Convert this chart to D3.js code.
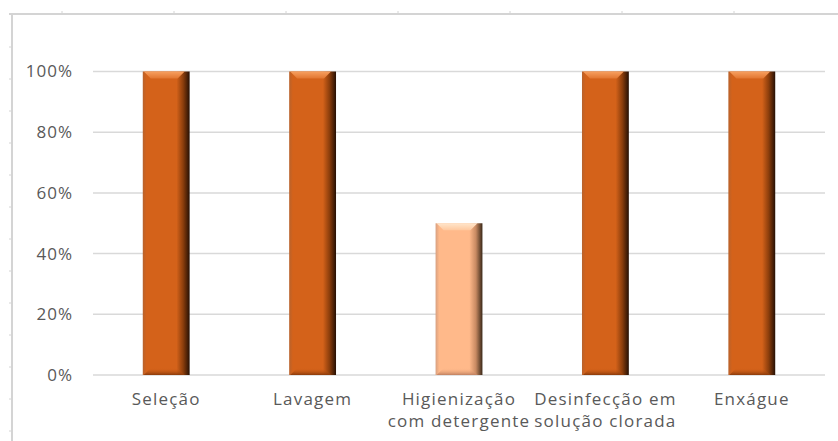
<!DOCTYPE html>
<html>
<head>
<meta charset="utf-8">
<script src="https://cdn.jsdelivr.net/npm/d3@7"></script>
<style>
  body { margin: 0; background: #fff; }
  svg { display: block; }
  text { font-family: "Open Sans", "Noto Sans", sans-serif; fill: #595959; }
</style>
</head>
<body>
<div class="chart"></div>
<script>
// data
var categories = [["Seleção"], ["Lavagem"], ["Higienização", "com detergente"], ["Desinfecção em", "solução clorada"], ["Enxágue"]];
var values = [1, 1, 0.5, 1, 1];
var barTone = ["dark", "dark", "light", "dark", "dark"];
var yTicks = [0, 0.2, 0.4, 0.6, 0.8, 1];

var width = 838, height = 441;
var margin = { top: 71.5, right: 13, bottom: 66, left: 93 };
var plotW = width - margin.left - margin.right,
    plotH = height - margin.top - margin.bottom;

var svg = d3.select(".chart").append("svg")
  .attr("width", width)
  .attr("height", height);

// spreadsheet frame lines with cell ticks
var frame = svg.append("g").attr("stroke", "#d4d4d4").attr("stroke-width", 2);
frame.append("line").attr("x1", 9).attr("x2", width).attr("y1", 14).attr("y2", 14);
frame.append("line").attr("x1", 12).attr("x2", 12).attr("y1", 14).attr("y2", height);
d3.range(62, width, 112).forEach(function(x) {
  frame.append("line").attr("x1", x).attr("x2", x).attr("y1", 11).attr("y2", 14).attr("stroke-width", 1);
});
d3.range(47, height, 32).forEach(function(y) {
  frame.append("line").attr("x1", 9).attr("x2", 12).attr("y1", y).attr("y2", y).attr("stroke-width", 1);
});

var defs = svg.append("defs");
var tones = {
  dark:  { body: "#d4621a", left: "#b8622c", shade: "#8c3e0c", edge: "#261004", top1: "#f7a060", top2: "#e27630", bot: "#8a3a0a" },
  light: { body: "#ffb98a", left: "#d8a080", shade: "#c88a62", edge: "#3a2818", top1: "#ffe6cc", top2: "#ffc89e", bot: "#c08060" }
};
Object.keys(tones).forEach(function(k) {
  var t = tones[k];
  var g = defs.append("linearGradient").attr("id", "body-" + k).attr("x1", 0).attr("x2", 1).attr("y1", 0).attr("y2", 0);
  [[0, t.left], [0.08, t.body], [0.72, t.body], [0.86, t.shade], [1, t.edge]].forEach(function(s) {
    g.append("stop").attr("offset", s[0]).attr("stop-color", s[1]);
  });
  var tg = defs.append("linearGradient").attr("id", "top-" + k).attr("x1", 0).attr("x2", 0).attr("y1", 0).attr("y2", 1);
  tg.append("stop").attr("offset", 0).attr("stop-color", t.top1);
  tg.append("stop").attr("offset", 1).attr("stop-color", t.top2);
  var bg = defs.append("linearGradient").attr("id", "bot-" + k).attr("x1", 0).attr("x2", 0).attr("y1", 0).attr("y2", 1);
  bg.append("stop").attr("offset", 0).attr("stop-color", t.body).attr("stop-opacity", 0);
  bg.append("stop").attr("offset", 1).attr("stop-color", t.bot);
});

var g = svg.append("g").attr("transform", "translate(" + margin.left + "," + margin.top + ")");

var x = d3.scaleBand()
  .domain(d3.range(categories.length))
  .range([0, plotW])
  .paddingInner(0.68)
  .paddingOuter(0.34);

var y = d3.scaleLinear().domain([0, 1]).range([plotH, 0]);

// gridlines
g.append("g").selectAll("line")
  .data(yTicks)
  .enter().append("line")
  .attr("x1", 0).attr("x2", plotW)
  .attr("y1", function(d) { return y(d); })
  .attr("y2", function(d) { return y(d); })
  .attr("stroke", "#d9d9d9")
  .attr("stroke-width", 1.5);

// y labels
var yAxis = d3.axisLeft(y).tickValues(yTicks).tickFormat(d3.format(".0%")).tickSize(0).tickPadding(20);
g.append("g").call(yAxis)
  .call(function(a) { a.select(".domain").remove(); })
  .selectAll("text")
  .style("font-size", "17px")
  .style("letter-spacing", "1px")
  .attr("fill", "#595959");

// bars
var bev = 7;
var bars = g.append("g").selectAll("g.bar")
  .data(values)
  .enter().append("g").attr("class", "bar");

bars.append("rect")
  .attr("x", function(d, i) { return x(i); })
  .attr("y", function(d) { return y(d); })
  .attr("width", x.bandwidth())
  .attr("height", function(d) { return plotH - y(d); })
  .attr("fill", function(d, i) { return "url(#body-" + barTone[i] + ")"; });

bars.append("polygon")
  .attr("points", function(d, i) {
    var x0 = x(i), x1 = x0 + x.bandwidth(), y0 = y(d);
    return [[x0 + 1, y0], [x1 - 5, y0], [x1 - 5 - bev, y0 + bev], [x0 + 1 + bev, y0 + bev]].join(" ");
  })
  .attr("fill", function(d, i) { return "url(#top-" + barTone[i] + ")"; });

bars.append("polygon")
  .attr("points", function(d, i) {
    var x0 = x(i), x1 = x0 + x.bandwidth(), yb = plotH;
    return [[x0 + 1, yb], [x1 - 5, yb], [x1 - 5 - bev, yb - bev], [x0 + 1 + bev, yb - bev]].join(" ");
  })
  .attr("fill", function(d, i) { return "url(#bot-" + barTone[i] + ")"; });

// category labels
var labels = g.append("g").selectAll("text")
  .data(categories)
  .enter().append("text")
  .attr("text-anchor", "middle")
  .attr("transform", function(d, i) { return "translate(" + (x(i) + x.bandwidth() / 2) + "," + (plotH + 30) + ")"; })
  .style("font-size", "17px")
  .style("letter-spacing", "1.2px");

labels.selectAll("tspan")
  .data(function(d) { return d; })
  .enter().append("tspan")
  .attr("x", 0)
  .attr("dy", function(d, i) { return i === 0 ? 0 : 21.5; })
  .text(function(d) { return d; });
</script>
</body>
</html>
